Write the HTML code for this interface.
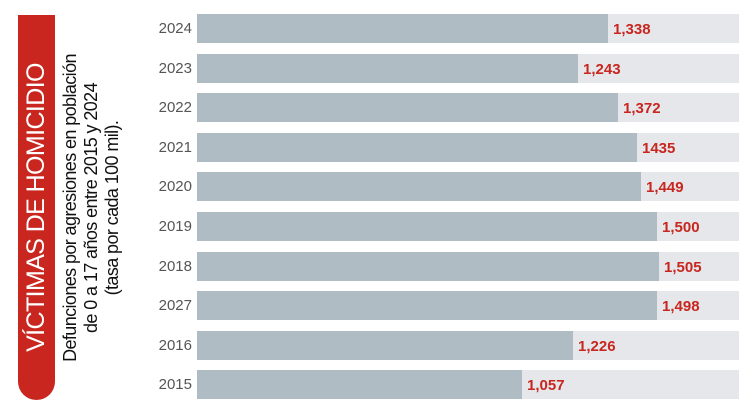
<!DOCTYPE html>
<html><head><meta charset="utf-8"><style>
body{margin:0;width:750px;height:413px;background:#fff;overflow:hidden;position:relative;font-family:"Liberation Sans",sans-serif}
.pill{position:absolute;left:18px;top:15px;width:37px;height:385px;background:#c8261f;border-radius:0 0 19px 19px}
.rot{position:absolute;transform:rotate(-90deg);transform-origin:0 0;white-space:nowrap}
.bg{position:absolute;left:197px;width:542px;height:29px;background:#e5e7ea}
.bar{position:absolute;left:197px;height:29px;background:#b0bcc3}
.yr{position:absolute;width:60px;left:132px;text-align:right;font-size:15px;color:#555;line-height:29px}
.v{position:absolute;font-size:15px;color:#c8261f;font-weight:bold;line-height:29px}
</style></head><body>
<div class="pill"></div>
<div class="rot" style="left:21px;top:360px;width:305px;text-align:center;color:#fff;font-size:25px;line-height:30px;letter-spacing:-0.6px">VÍCTIMAS DE HOMICIDIO</div>
<div class="rot" style="left:60px;top:385px;width:354px;text-align:center;color:#111;font-size:18px;line-height:21px;letter-spacing:-0.6px">Defunciones por agresiones en población<br>de 0 a 17 años entre 2015 y 2024<br>(tasa por cada 100 mil).</div>
<div id="c"></div>
<script>
var d=[["2024",608,"1,338"],["2023",578,"1,243"],["2022",618,"1,372"],["2021",637,"1435"],["2020",641,"1,449"],["2019",657,"1,500"],["2018",659,"1,505"],["2027",657,"1,498"],["2016",573,"1,226"],["2015",522,"1,057"]];
var h="";d.forEach(function(r,i){var y=14+i*39.6;
h+='<div class="bg" style="top:'+y+'px"></div><div class="bar" style="top:'+y+'px;width:'+(r[1]-197)+'px"></div><div class="yr" style="top:'+y+'px">'+r[0]+'</div><div class="v" style="top:'+(y+1)+'px;left:'+(r[1]+5)+'px">'+r[2]+'</div>';});
document.getElementById("c").innerHTML=h;
</script>
</body></html>
